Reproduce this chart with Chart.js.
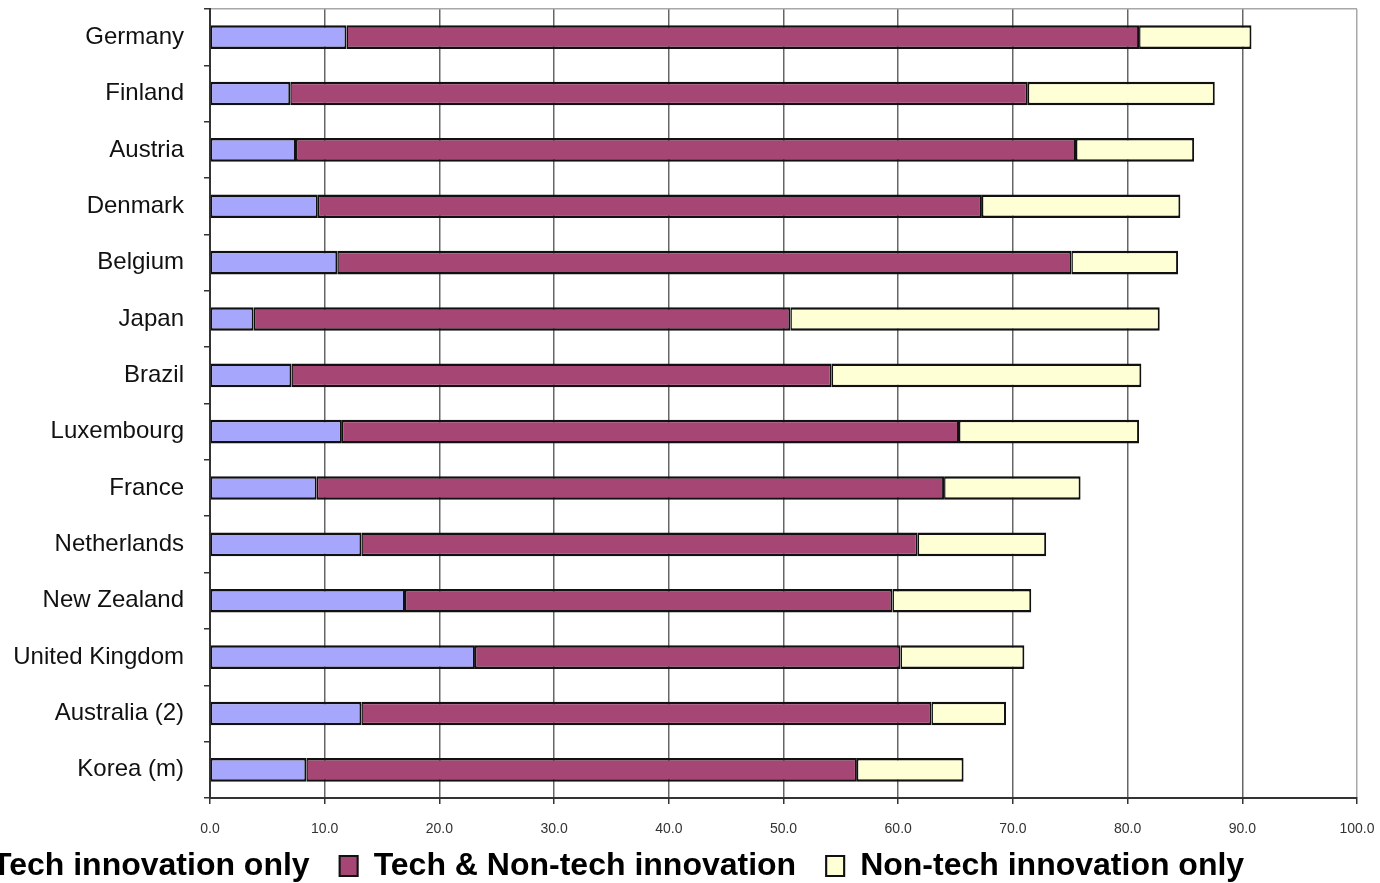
<!DOCTYPE html>
<html>
<head>
<meta charset="utf-8">
<title>Innovation by type</title>
<script src="https://cdn.jsdelivr.net/npm/chart.js@4.4.1/dist/chart.umd.min.js"></script>
<style>
  html, body { margin: 0; padding: 0; background: #fff; overflow: hidden; width: 1380px; height: 883px; }
  #wrap { position: absolute; left: -72px; top: 0; width: 1480px; height: 892px; }
</style>
</head>
<body>
<div id="wrap"><canvas id="chart" width="1480" height="892"></canvas></div>
<script>
const countries = ['Germany', 'Finland', 'Austria', 'Denmark', 'Belgium', 'Japan', 'Brazil',
  'Luxembourg', 'France', 'Netherlands', 'New Zealand', 'United Kingdom', 'Australia (2)', 'Korea (m)'];

// share of firms, % (segment lengths)
const techOnly    = [11.9, 7.0, 7.5, 9.4, 11.1, 3.8, 7.1, 11.5, 9.3, 13.2, 17.0, 23.1, 13.2, 8.4];
const techAndNon  = [69.1, 64.3, 68.0, 57.9, 64.0, 46.8, 47.1, 53.8, 54.7, 48.5, 42.5, 37.1, 49.7, 48.0];
const nonTechOnly = [9.8, 16.3, 10.3, 17.3, 9.3, 32.2, 27.0, 15.7, 11.9, 11.2, 12.1, 10.8, 6.5, 9.3];

const seriesNames = ['Tech innovation only', 'Tech & Non-tech innovation', 'Non-tech innovation only'];
const seriesColors = ['#a6a6fc', '#a64675', '#ffffd6'];

const xMin = 0, xMax = 100, xStep = 10;

const barBorder = { top: 2.5, bottom: 2.5, left: 1.5, right: 2 };

function makeSet(i, values) {
  return {
    label: seriesNames[i],
    data: values,
    backgroundColor: seriesColors[i],
    borderColor: '#111',
    borderWidth: barBorder,
    borderSkipped: false,
    barPercentage: 0.42,
    categoryPercentage: 1.0
  };
}

// x axis box is kept short so the legend sits close; give its tick labels
// room to draw below it again once layout is done
const xLabelRoom = {
  id: 'xLabelRoom',
  afterLayout(chart) {
    const x = chart.scales.x;
    x.bottom = x.top + 44;
    x.height = 44;
  }
};

new Chart(document.getElementById('chart'), {
  type: 'bar',
  data: {
    labels: countries,
    datasets: [makeSet(0, techOnly), makeSet(1, techAndNon), makeSet(2, nonTechOnly)]
  },
  plugins: [xLabelRoom],
  options: {
    indexAxis: 'y',
    responsive: false,
    animation: false,
    devicePixelRatio: 1,
    layout: { padding: { top: 9, left: 0, right: 51, bottom: 0 } },
    plugins: {
      tooltip: { enabled: false },
      legend: {
        position: 'bottom',
        align: 'start',
        labels: {
          boxWidth: 18,
          boxHeight: 20,
          padding: 30,
          color: '#000',
          font: { family: "'Liberation Sans', Arial, sans-serif", size: 32, weight: 'bold' }
        }
      }
    },
    scales: {
      x: {
        stacked: true,
        min: xMin,
        max: xMax,
        ticks: {
          stepSize: xStep,
          padding: 17,
          color: '#333',
          font: { family: "'Liberation Sans', Arial, sans-serif", size: 14 },
          callback: (v) => Number(v).toFixed(1)
        },
        grid: {
          color: (ctx) => (ctx.tick && ctx.tick.value === xMax) ? '#a8a8a8' : '#666',
          lineWidth: 1.5,
          tickColor: '#333',
          tickLength: 6
        },
        border: { color: '#333', width: 2 },
        afterFit: (axis) => { axis.height = 22; }
      },
      y: {
        stacked: true,
        ticks: {
          padding: 20,
          color: '#111',
          font: { family: "'Liberation Sans', Arial, sans-serif", size: 24 }
        },
        grid: {
          color: (ctx) => ctx.index === 0 ? '#a8a8a8' : 'rgba(0,0,0,0)',
          lineWidth: 1.5,
          tickColor: '#333',
          tickLength: 6
        },
        border: { color: '#333', width: 2 },
        afterFit: (axis) => {
          axis.width = 282;
          axis.paddingTop = 0;
          axis.paddingBottom = 0;
        }
      }
    }
  }
});
</script>
</body>
</html>
